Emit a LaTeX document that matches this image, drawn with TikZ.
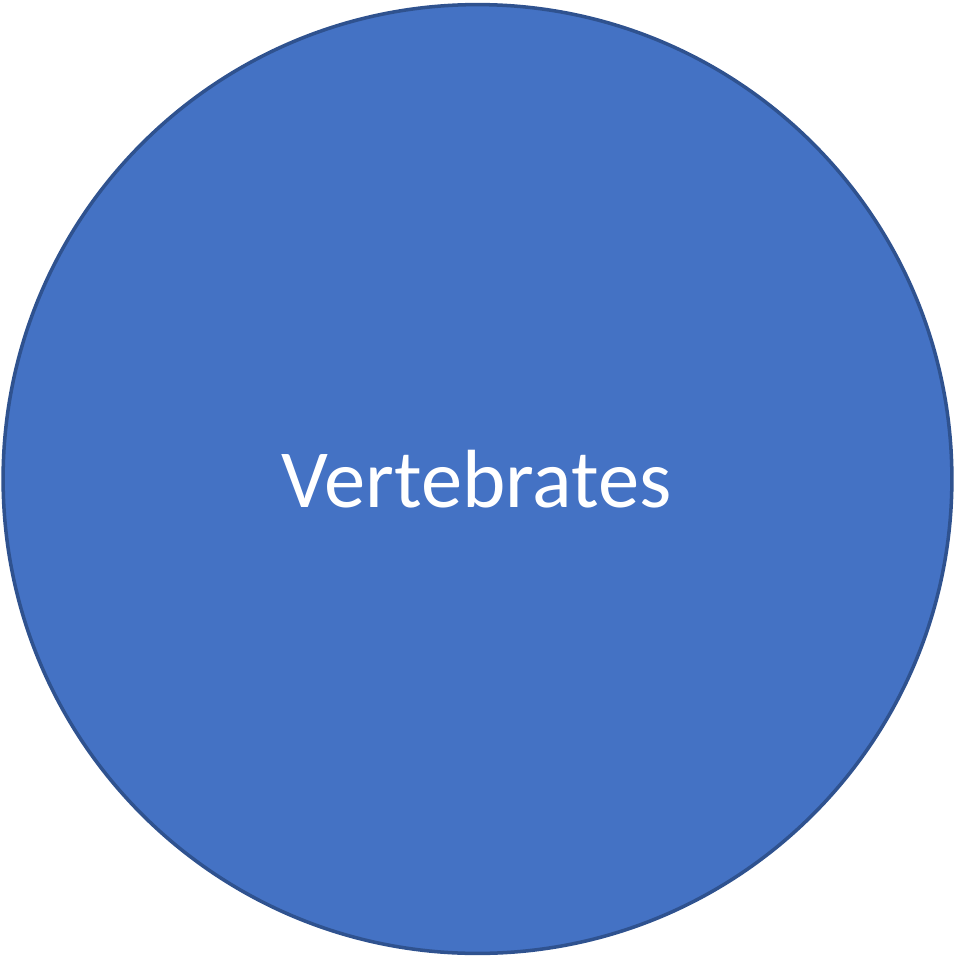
\documentclass[tikz,border=0pt]{standalone}
\usepackage{fontspec}
\setmainfont{Carlito}
\usepackage{tikz}

\definecolor{setblue}{HTML}{4472C4}
\definecolor{setedge}{HTML}{2F528F}

\begin{document}
\begin{tikzpicture}[
        x=0.02cm, y=-0.02cm,
        setcircle/.style={
            circle,
            draw=setedge,
            fill=setblue,
            line width=2pt,
            inner sep=0pt,
            minimum size=18.98cm
        },
        setlabel/.style={
            text=white,
            font=\fontsize{47}{56}\selectfont
        }
    ]

        \useasboundingbox (0,0) rectangle (955,958);

        \node[setcircle] (vert) at (477.5,479) {};
        \node[setlabel] (vertlabel) at (476.5,479) {Vertebrates};

    \end{tikzpicture}
\end{document}
